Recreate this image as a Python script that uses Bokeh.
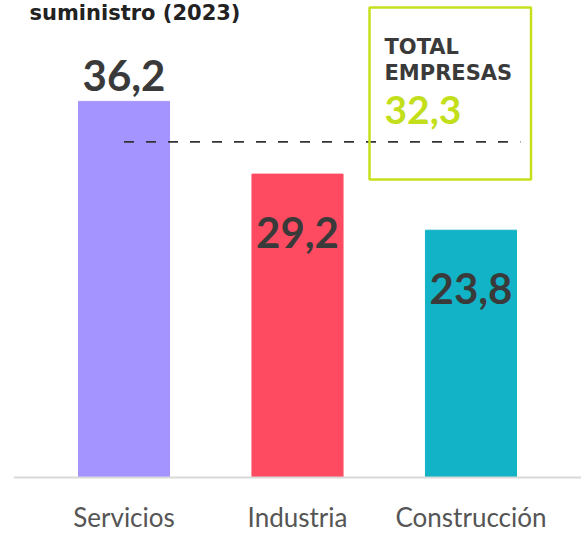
from bokeh.plotting import figure
from bokeh.models import FactorRange, Range1d, ColumnDataSource, Label, Span
from bokeh.core.properties import value
from bokeh.embed import file_html
from bokeh.resources import INLINE

# ---- data ----
categories = ["Servicios", "Industria", "Construcción"]
values = [36.2, 29.2, 23.8]
value_labels = ["36,2", "29,2", "23,8"]
colors = ["#A394FF", "#FF4B61", "#13B3C7"]
total_value = 32.3
total_label = "32,3"
title_text = "suministro (2023)"
box_title = ["TOTAL", "EMPRESAS"]

# ---- layout constants ----
W, H = 581, 534
FRAME_LEFT = 13
BASE_ROW = 477              # canvas row of the baseline (value 0)
PX_PER_UNIT = 10.39
y_start = -(H - BASE_ROW) / PX_PER_UNIT
y_end = BASE_ROW / PX_PER_UNIT
BL = 0.42                   # empirical baseline correction (fraction of font size)

def ydata(canvas_y):
    return (BASE_ROW - canvas_y) / PX_PER_UNIT

def xscreen(canvas_x):
    return canvas_x - FRAME_LEFT

x_range = FactorRange(factors=categories, range_padding=0.137, range_padding_units="absolute")
p = figure(x_range=x_range, y_range=Range1d(y_start, y_end), width=W, height=H,
           output_backend="svg", toolbar_location=None,
           min_border_left=FRAME_LEFT, min_border_right=0, min_border_top=0,
           min_border_bottom=0)
p.outline_line_color = None
p.background_fill_color = "white"
p.border_fill_color = "white"
p.xgrid.visible = False
p.ygrid.visible = False
p.xaxis.visible = False
p.yaxis.visible = False

src = ColumnDataSource(dict(cat=categories, val=values, lab=value_labels, col=colors))
p.vbar(x="cat", top="val", bottom=0, width=0.525, color="col", source=src)

# baseline (x axis line)
p.add_layout(Span(location=0, dimension="width", line_color="#d9d9d9", line_width=2))

# category labels under the baseline
cat_src = ColumnDataSource(dict(cat=categories, zero=[0] * len(categories)))
p.text(x="cat", y="zero", text="cat", source=cat_src, y_offset=50 - BL * 26,
       text_align="center", text_baseline="alphabetic",
       text_font=value("Lato"), text_font_size="26px", text_color="#555555")

# value labels: first above the bar, others inside
above = ColumnDataSource(dict(cat=categories[:1], val=values[:1], lab=value_labels[:1]))
inside = ColumnDataSource(dict(cat=categories[1:], val=values[1:], lab=value_labels[1:]))
common = dict(text="lab", text_align="center", text_baseline="alphabetic",
              text_font=value("Lato"), text_font_style="bold", text_font_size="42px",
              text_color="#3a3a3a")
p.text(x="cat", y="val", source=above, y_offset=-8 - BL * 42, **common)
p.text(x="cat", y="val", source=inside, y_offset=76 - BL * 42, **common)

# dashed total line
p.segment(x0=["Servicios"], y0=[total_value], x1=[("Construcción", 0.285)], y1=[total_value],
          line_color="#333333", line_width=1.6, line_dash="10 12")

# green box
p.quad(left=[("Industria", 0.415)], right=[("Construcción", 0.346)],
       top=[ydata(7)], bottom=[ydata(179)], fill_color=None,
       line_color="#C6E01E", line_width=2.5)

def label(x, baseline_row, text, font, size, color):
    p.add_layout(Label(x=xscreen(x), x_units="screen", y=ydata(baseline_row - BL * size),
                       text=text, text_font=font, text_font_style="bold",
                       text_font_size=f"{size}px", text_color=color,
                       text_baseline="alphabetic"))

label(384, 55, box_title[0], "DejaVu Sans", 21, "#3a3a3a")
label(384, 81, box_title[1], "DejaVu Sans", 21, "#3a3a3a")
label(384, 126, total_label, "Lato", 39, "#C3DF1B")
label(29, 21, title_text, "DejaVu Sans", 21, "#222222")

open("out.html", "w").write(file_html(p, INLINE))
